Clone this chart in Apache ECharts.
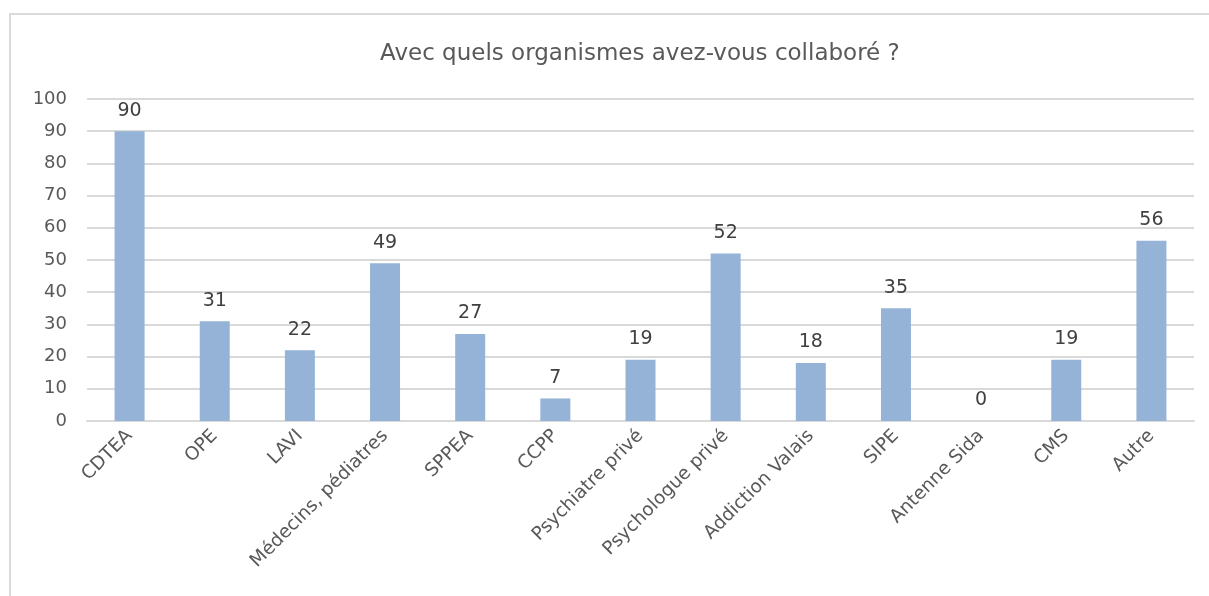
<!DOCTYPE html>
<html><head><meta charset="utf-8">
<script src="https://cdn.jsdelivr.net/npm/echarts@6/dist/echarts.min.js"></script>
<style>
html,body{margin:0;padding:0;background:#fff;overflow:hidden;width:1209px;height:596px;}
#frame{position:absolute;left:9px;top:13px;width:1200px;height:583px;border-top:2px solid #d9d9d9;border-left:2px solid #d9d9d9;box-sizing:border-box;}
#chart{position:absolute;left:0;top:0;width:1209px;height:596px;}
</style></head>
<body>
<div id="frame"></div>
<div id="chart"></div>
<script>
const titleText = "Avec quels organismes avez-vous collaboré ?";
const categories = ["CDTEA","OPE","LAVI","Médecins, pédiatres","SPPEA","CCPP","Psychiatre privé","Psychologue privé","Addiction Valais","SIPE","Antenne Sida","CMS","Autre"];
const values = [90,31,22,49,27,7,19,52,18,35,0,19,56];
const yTicks = {min:0,max:100,interval:10};

const chart = echarts.init(document.getElementById('chart'), null, {renderer:'canvas'});
const font = "'DejaVu Sans', sans-serif";
chart.setOption({
  animation:false,
  backgroundColor:'transparent',
  title:{text:titleText,left:375,top:38,textStyle:{fontFamily:font,fontSize:23,fontWeight:'normal',color:'#595959'}},
  grid:{left:87,right:15,top:99,bottom:175,containLabel:false},
  xAxis:{type:'category',data:categories,
    axisLine:{lineStyle:{color:'#d9d9d9',width:2}},axisTick:{show:false},
    axisLabel:{rotate:45,interval:0,margin:12,fontFamily:font,fontSize:18.5,color:'#595959'}},
  yAxis:{type:'value',min:yTicks.min,max:yTicks.max,interval:yTicks.interval,
    axisLine:{show:false},axisTick:{show:false},
    splitLine:{lineStyle:{color:'#d9d9d9',width:2}},
    axisLabel:{margin:20,fontFamily:font,fontSize:18,color:'#595959'}},
  series:[{type:'bar',data:values,barWidth:30,itemStyle:{color:'#95b3d7'},
    label:{show:true,position:'top',distance:11,fontFamily:font,fontSize:19,color:'#404040'}}]
});
</script>
</body></html>
